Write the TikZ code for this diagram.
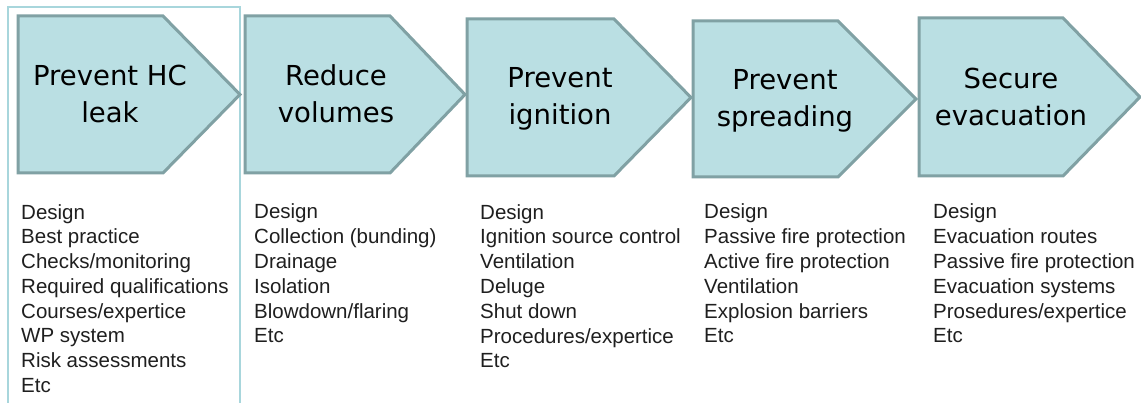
\documentclass[tikz,border=0pt]{standalone}
\usepackage{fontspec}
\setmainfont{Liberation Sans}
\newfontfamily\headfont{DejaVu Sans}
\definecolor{arrowfill}{RGB}{186,223,227}
\definecolor{arrowline}{RGB}{128,161,164}
\definecolor{framecol}{RGB}{168,214,220}
\begin{document}
\begin{tikzpicture}[x=1pt,y=-1pt,
  stage/.style={draw=arrowline, fill=arrowfill, line width=3pt, line join=miter},
  title/.style={font=\headfont\fontsize{27.5}{37}\selectfont, align=center, anchor=base, inner sep=0pt},
  list/.style={font=\fontsize{20.5}{24.8}\selectfont, align=left, anchor=base west, inner sep=0pt, text=black!88}]
\useasboundingbox (0,0) rectangle (1141,403);
\fill[white] (0,0) rectangle (1141,403);
% frame around first column
\draw[framecol, line width=1.5pt] (8,410) -- (8,7) -- (240,7) -- (240,410);
% arrows
\draw[stage] (18,16) -- (163,16) -- (240,94.5) -- (163,173) -- (18,173) -- cycle;
\draw[stage] (245,16) -- (390,16) -- (465,94.5) -- (390,173) -- (245,173) -- cycle;
\draw[stage] (467,19) -- (614,19) -- (691,97.5) -- (614,176) -- (467,176) -- cycle;
\draw[stage] (693,21) -- (838,21) -- (916,99) -- (838,177) -- (693,177) -- cycle;
\draw[stage] (919,18) -- (1063,18) -- (1140,97) -- (1063,176) -- (919,176) -- cycle;
% titles (anchor = baseline of last line)
\node[title] (t1) at (110,123) {Prevent HC\\leak};
\node[title] (t2) at (336,123) {Reduce\\volumes};
\node[title] (t3) at (560,125) {Prevent\\ignition};
\node[title] (t4) at (785,127) {Prevent\\spreading};
\node[title] (t5) at (1011,126) {Secure\\evacuation};
% lists (anchor = baseline of last line)
\node[list] (l1) at (21,392.6) {Design\\Best practice\\Checks/monitoring\\Required qualifications\\Courses/expertice\\WP system\\Risk assessments\\Etc};
\node[list] (l2) at (254,343) {Design\\Collection (bunding)\\Drainage\\Isolation\\Blowdown/flaring\\Etc};
\node[list] (l3) at (480,367.8) {Design\\Ignition source control\\Ventilation\\Deluge\\Shut down\\Procedures/expertice\\Etc};
\node[list] (l4) at (704,343) {Design\\Passive fire protection\\Active fire protection\\Ventilation\\Explosion barriers\\Etc};
\node[list] (l5) at (933,343) {Design\\Evacuation routes\\Passive fire protection\\Evacuation systems\\Prosedures/expertice\\Etc};
\end{tikzpicture}
\end{document}
